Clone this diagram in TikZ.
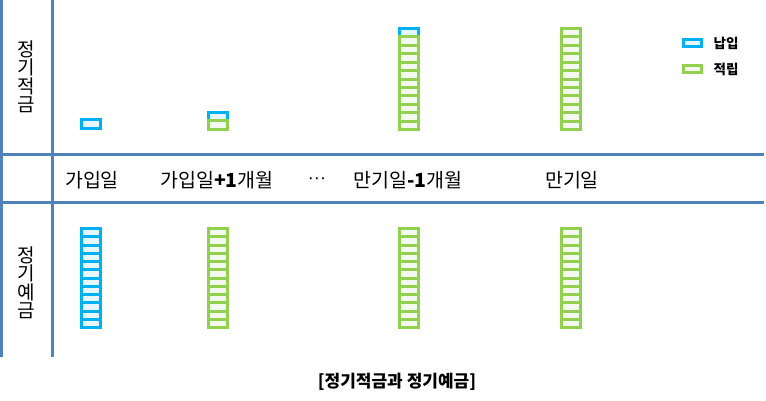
\documentclass[tikz,border=0pt]{standalone}
\usepackage{fontspec}
\setmainfont{Noto Sans CJK KR}
\usetikzlibrary{positioning}
\definecolor{gridblue}{HTML}{4F81BD}
\definecolor{payblue}{HTML}{00B0F0}
\definecolor{paylight}{HTML}{E5F6FD}
\definecolor{savegreen}{HTML}{92D050}
\definecolor{savelight}{HTML}{F3F9EE}
\tikzset{
gridline/.style={gridblue, line width=3pt}, % table lines
pay/.style={draw=payblue, fill=paylight, line width=3pt, minimum width=19pt, minimum height=8.5pt, inner sep=0pt, outer sep=0pt}, % one payment cell
save/.style={pay, draw=savegreen, fill=savelight}, % one saved cell
daytext/.style={font=\fontsize{19.5}{19.5}\selectfont, inner sep=0pt},
sidetext/.style={font=\fontsize{19}{18.5}\selectfont, align=center, inner sep=0pt},
legendtext/.style={font=\fontsize{13.5}{13.5}\selectfont\bfseries, inner sep=0pt},
}

\begin{document}
\begin{tikzpicture}[x=1pt, y=-1pt]
\useasboundingbox (0,0) rectangle (766,401);
% table
\draw[gridline] (1.5,0) -- (1.5,357);
\draw[gridline] (52,0) -- (52,357);
\draw[gridline] (0,154.5) -- (764,154.5);
\draw[gridline] (0,202) -- (764,202);
% row titles
\node[sidetext] (jeokgeum) at (26,77) {정\\기\\적\\금};
\node[sidetext] (yegeum) at (26,283) {정\\기\\예\\금};
% days
\node[daytext] (day1) at (92,180) {가입일};
\node[daytext] (day2) at (217,180) {가입일\textbf{+1}개월};
\node[font=\fontsize{10}{10}\selectfont\bfseries, inner sep=0pt] (dots) at (317,180) {···};
\node[daytext] (day3) at (408,180) {만기일\textbf{-1}개월};
\node[daytext] (day4) at (572,180) {만기일};
% installment savings
\node[pay, minimum height=9pt] (t1) at (91,124) {};
\node[pay] (t2-1) at (218,116.75) {};
\node[save] (t2-2) at (218,125.25) {};
\node[pay] (t3-1) at (409,{28.5+0.5*8.417}) {};
\foreach \i in {2,...,12}
    \node[save, minimum height=8.417pt] (t3-\i) at (409,{28.5+(\i-0.5)*8.417}) {};
\foreach \i in {1,...,12}
    \node[save, minimum height=8.417pt] (t4-\i) at (571,{28.5+(\i-0.5)*8.417}) {};
% deposit
\foreach \i in {1,...,12}{
    \node[pay, minimum height=8.25pt] (b1-\i) at (91,{228.5+(\i-0.5)*8.25}) {};
    \node[save, minimum height=8.25pt] (b2-\i) at (218,{228.5+(\i-0.5)*8.25}) {};
    \node[save, minimum height=8.25pt] (b3-\i) at (409,{228.5+(\i-0.5)*8.25}) {};
    \node[save, minimum height=8.25pt] (b4-\i) at (571,{228.5+(\i-0.5)*8.25}) {};
}
% legend
\node[pay, minimum width=18pt, minimum height=7pt] (lgpay) at (692.5,43) {};
\node[save, minimum width=18pt, minimum height=7pt] (lgsave) at (692.5,69) {};
\node[legendtext, right=12pt of lgpay] (lgpaytext) {납입};
\node[legendtext, right=12pt of lgsave] (lgsavetext) {적립};
% caption
\node[font=\fontsize{17}{17}\selectfont\bfseries, inner sep=0pt] (caption) at (397,382) {[정기적금과 정기예금]};
\end{tikzpicture}
\end{document}
